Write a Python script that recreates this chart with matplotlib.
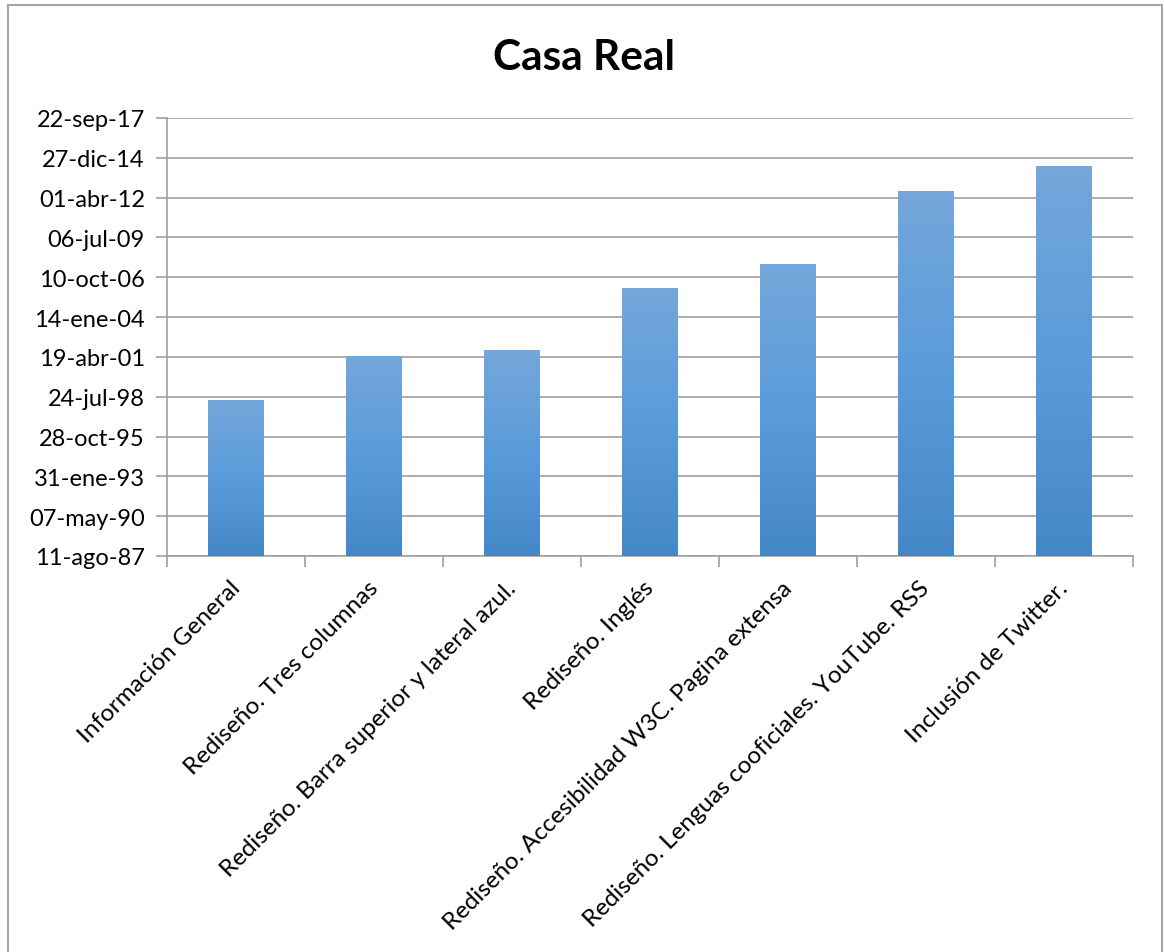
import matplotlib
matplotlib.use("Agg")
import matplotlib.pyplot as plt
import matplotlib.dates as mdates
import matplotlib.transforms as mtransforms
import numpy as np
from matplotlib.colors import LinearSegmentedColormap
from matplotlib.patches import Rectangle
from matplotlib.ticker import FixedLocator

# ---- data ----
categories = [
    "Información General",
    "Rediseño. Tres columnas",
    "Rediseño. Barra superior y lateral azul.",
    "Rediseño. Inglés",
    "Rediseño. Accesibilidad W3C. Pagina extensa",
    "Rediseño. Lenguas cooficiales. YouTube. RSS",
    "Inclusión de Twitter.",
]
launch_dates = [
    "1998-05-12",
    "2001-05-22",
    "2001-10-19",
    "2006-01-24",
    "2007-09-19",
    "2012-09-26",
    "2014-06-16",
]
ytick_dates = [
    "1987-08-11", "1990-05-07", "1993-01-31", "1995-10-28", "1998-07-24",
    "2001-04-19", "2004-01-14", "2006-10-10", "2009-07-06", "2012-04-01",
    "2014-12-27", "2017-09-22",
]
ytick_labels = [
    "11-ago-87", "07-may-90", "31-ene-93", "28-oct-95", "24-jul-98",
    "19-abr-01", "14-ene-04", "10-oct-06", "06-jul-09", "01-abr-12",
    "27-dic-14", "22-sep-17",
]
title = "Casa Real"

# ---- figure ----
W, H = 1164, 953
fig = plt.figure(figsize=(W / 100, H / 100), dpi=100)
plt.rcParams['font.family'] = ['Lato', 'DejaVu Sans']

L, R, T, B = 167, 1133, 119, 557
ax = fig.add_axes([L / W, 1 - B / H, (R - L) / W, (B - T) / H])

ymin = mdates.datestr2num(ytick_dates[0])
ymax = mdates.datestr2num(ytick_dates[-1])
vals = mdates.datestr2num(launch_dates)
x = np.arange(len(categories))

bars = ax.bar(x, vals - ymin, bottom=ymin, width=0.4, color="#5B9BD5",
              zorder=3, linewidth=0)

cmap = LinearSegmentedColormap.from_list(
    "xl", ["#4588C7", "#5A9BDB", "#75A7DA"])
grad = np.linspace(0, 1, 256).reshape(-1, 1)
for b in bars:
    x0, y0 = b.get_x(), b.get_y()
    im = ax.imshow(grad, extent=[x0, x0 + b.get_width(), y0, y0 + b.get_height()],
                   origin="lower", aspect="auto", cmap=cmap, zorder=4,
                   interpolation="bilinear")
    im.set_clip_path(b)

ax.set_xlim(-0.5, len(categories) - 0.5)
ax.set_ylim(ymin, ymax)
ax.set_aspect("auto")

grid_c = "#A0A0A0"
ax.yaxis.set_major_locator(FixedLocator(mdates.datestr2num(ytick_dates)))
ax.set_yticklabels(ytick_labels, fontsize=17, color="black")
ax.yaxis.grid(True, color=grid_c, linewidth=1.2, zorder=0)
ax.set_axisbelow(True)

ax.set_xticks(np.arange(-0.5, len(categories) + 0.5, 1.0))
ax.set_xticklabels([])
ax.set_xticks(x, minor=True)
ax.set_xticklabels(categories, minor=True, rotation=45, ha="right",
                   va="top", rotation_mode="anchor", fontsize=17.5)
ax.tick_params(axis="x", which="minor", length=0, pad=15)
ax.tick_params(axis="x", which="major", length=8, width=1.2, color=grid_c,
               direction="out")
ax.tick_params(axis="y", length=8, width=1.2, color=grid_c, direction="out",
               pad=8)

shift = mtransforms.ScaledTranslation(-7 / 100, 0, fig.dpi_scale_trans)
for lbl in ax.get_xticklabels(minor=True):
    lbl.set_transform(lbl.get_transform() + shift)

for s in ["top", "right"]:
    ax.spines[s].set_visible(False)
for s in ["left", "bottom"]:
    ax.spines[s].set_color(grid_c)
    ax.spines[s].set_linewidth(1.2)

fig.text(584 / W, 1 - 58 / H, title, ha="center", va="center",
         fontsize=30.5, fontweight="bold")

# chart border
fig.patches.append(Rectangle((8 / W, -0.05), (1162 - 8) / W, 1.05 - 6 / H,
                             transform=fig.transFigure, fill=False,
                             edgecolor="#A6A6A6", linewidth=1.5))

fig.savefig("out.png", dpi=100)
